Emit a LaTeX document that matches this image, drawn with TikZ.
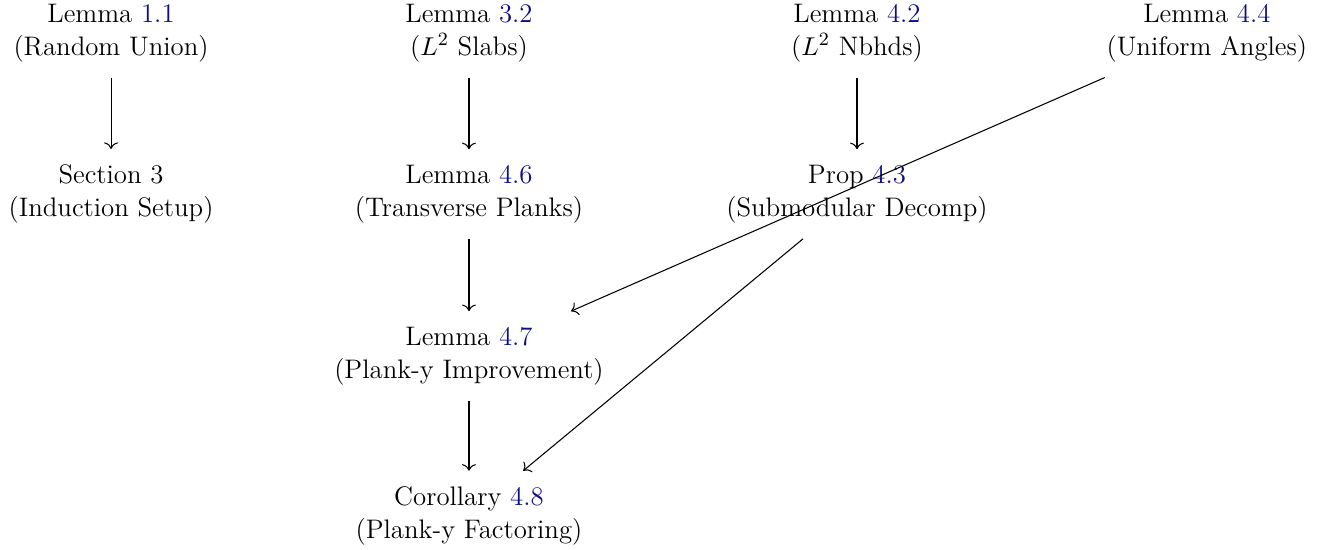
\documentclass[tikz,border=0pt]{standalone}
\usetikzlibrary{cd}
\definecolor{refblue}{rgb}{0.06,0.06,0.52}
\newcommand{\refnum}[1]{\textcolor{refblue}{#1}}
\begin{document}
\begin{tikzpicture}[every node/.style={align=center, inner xsep=3.65pt, inner ysep=6.5pt, font=\fontsize{11.4}{14}\selectfont}, line width=0.45pt]
      \useasboundingbox (0,0) rectangle (19.97,-8.22);
      \node (L11) at (1.66,-0.49) {Lemma \refnum{1.1}\\(Random Union)};
      \node (S3) at (1.66,-2.90) {Section 3\\(Induction Setup)};
      \node (L32) at (7.01,-0.49) {Lemma \refnum{3.2}\\($L^2$ Slabs)};
      \node (L46) at (7.01,-2.90) {Lemma \refnum{4.6}\\(Transverse Planks)};
      \node (L47) at (7.01,-5.32) {Lemma \refnum{4.7}\\(Plank-y Improvement)};
      \node (C48) at (7.01,-7.71) {Corollary \refnum{4.8}\\(Plank-y Factoring)};
      \node (L42) at (12.81,-0.49) {Lemma \refnum{4.2}\\($L^2$ Nbhds)};
      \node (P43) at (12.81,-2.90) {Prop \refnum{4.3}\\(Submodular Decomp)};
      \node (L44) at (18.04,-0.49) {Lemma \refnum{4.4}\\(Uniform Angles)};
      \foreach \source/\dest in {L11/S3, L32/L46, L46/L47, L47/C48, L42/P43, L44/L47, P43/C48}
        \path[-{cm to}] (\source) edge (\dest);
    \end{tikzpicture}
\end{document}
